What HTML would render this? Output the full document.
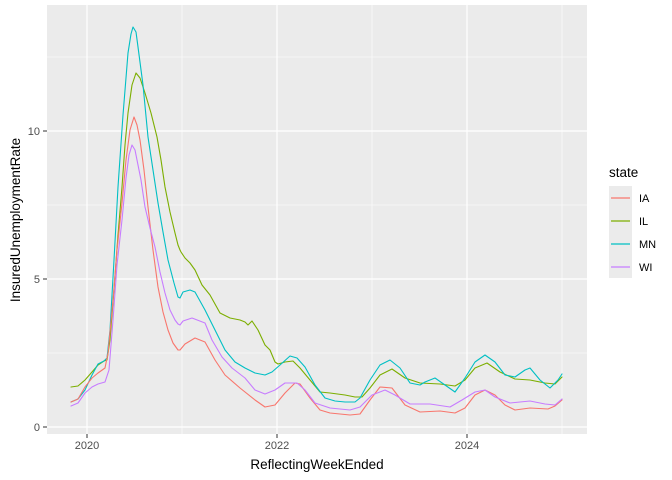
<!DOCTYPE html>
<html><head><style>body{margin:0;background:#fff}svg{display:block}text{font-family:"Liberation Sans",sans-serif}</style></head><body>
<svg width="672" height="480" xmlns="http://www.w3.org/2000/svg">
<rect x="47" y="5" width="540" height="429" fill="#ebebeb"/>
<g stroke="#fff" stroke-width="0.6">
<line x1="47" x2="587" y1="353" y2="353"/><line x1="47" x2="587" y1="205" y2="205"/><line x1="47" x2="587" y1="57" y2="57"/>
<line x1="182" x2="182" y1="5" y2="434"/><line x1="372" x2="372" y1="5" y2="434"/><line x1="562" x2="562" y1="5" y2="434"/>
</g>
<g stroke="#fff" stroke-width="1.2">
<line x1="47" x2="587" y1="427" y2="427"/><line x1="47" x2="587" y1="279" y2="279"/><line x1="47" x2="587" y1="131" y2="131"/>
<line x1="87" x2="87" y1="5" y2="434"/><line x1="277" x2="277" y1="5" y2="434"/><line x1="467" x2="467" y1="5" y2="434"/>
</g>
<g fill="none" stroke-width="1.1" stroke-linejoin="round" stroke-linecap="round">
<polyline stroke="#7CAE00" points="71,387 78,386 85,380 92,372 98,365 104,361 107,360 110,340 114,290 118,235 122,187 125,145 128,113 132,85 136,73 140,78 145,93 151,113 157,137 161,160 165,187 170,212 175,233 178,245 180,250 181,252 185,258 190,263 195,270 202,285 210,295 220,313 230,318 240,320 245,322 248,325 252,321 258,330 265,345 270,350 275,362 278,364 285,362 293,361 300,368 310,380 320,392 330,393 345,395 355,397 362,397 370,388 380,375 392,369 405,378 420,383 440,384 455,386 465,380 475,368 487,363 500,372 515,379 530,380 545,383 555,384 562,377"/>
<polyline stroke="#00BFC4" points="71,402 78,399 85,390 92,375 98,364 104,361 107,358 110,330 114,260 118,187 123,115 128,53 131,34 133,27 136,32 138,47 143,85 148,137 153,170 158,203 163,232 168,260 174,283 178,297 180,298 183,292 190,290 195,292 205,310 215,330 225,350 235,362 245,368 255,373 265,375 272,372 280,365 290,356 297,358 305,367 315,385 325,398 335,401 345,402 355,402 360,398 370,380 380,365 390,360 400,368 410,383 420,385 425,382 435,378 445,385 455,392 465,378 475,362 485,355 495,362 505,375 515,377 525,370 530,368 540,380 550,388 558,380 562,374"/>
<polyline stroke="#F8766D" points="71,402 78,399 85,387 92,378 98,373 105,368 108,353 113,300 117,250 122,203 126,160 130,130 134,117 137,125 140,140 144,170 148,207 153,250 158,287 163,312 168,330 173,343 178,350 180,350 185,344 195,338 205,342 215,360 225,375 240,388 255,400 265,407 275,405 285,393 295,383 300,384 310,398 320,410 330,413 350,415 360,414 370,400 380,387 392,388 405,405 420,412 440,411 455,413 465,408 475,395 485,390 495,395 505,405 515,410 530,408 548,409 555,406 562,400"/>
<polyline stroke="#C77CFF" points="71,406 78,403 85,393 92,387 98,384 105,382 109,370 113,320 117,265 122,220 126,178 129,155 132,145 135,150 137,160 141,180 145,207 150,228 155,247 160,272 165,293 170,310 175,320 178,324 180,325 183,321 192,318 205,323 212,340 222,357 232,368 245,378 255,390 265,394 275,390 285,383 297,383 305,390 315,403 330,408 350,410 360,407 372,395 385,390 395,395 410,404 430,404 450,407 462,400 475,392 485,390 495,397 510,403 530,401 545,404 555,405 562,399"/>
</g>
<g stroke="#333" stroke-width="1">
<line x1="43" x2="47" y1="427" y2="427"/><line x1="43" x2="47" y1="279" y2="279"/><line x1="43" x2="47" y1="131" y2="131"/>
<line x1="87" x2="87" y1="434" y2="438"/><line x1="277" x2="277" y1="434" y2="438"/><line x1="467" x2="467" y1="434" y2="438"/>
</g>
<g fill="#4d4d4d" font-size="11" text-anchor="end">
<text x="40" y="431">0</text><text x="40" y="283">5</text><text x="40" y="135">10</text>
</g>
<g fill="#4d4d4d" font-size="11" text-anchor="middle">
<text x="87" y="449">2020</text><text x="277" y="449">2022</text><text x="467" y="449">2024</text>
</g>
<text x="317" y="469" font-size="13.5" text-anchor="middle" fill="#000">ReflectingWeekEnded</text>
<text transform="translate(20,220) rotate(-90)" font-size="13.5" text-anchor="middle" fill="#000">InsuredUnemploymentRate</text>
<text x="609" y="177" font-size="13.5" fill="#000">state</text>
<rect x="609" y="186" width="23" height="92" fill="#ebebeb"/>
<g stroke-width="1.2">
<line x1="611" x2="630" y1="198" y2="198" stroke="#F8766D"/>
<line x1="611" x2="630" y1="221" y2="221" stroke="#7CAE00"/>
<line x1="611" x2="630" y1="244" y2="244" stroke="#00BFC4"/>
<line x1="611" x2="630" y1="267" y2="267" stroke="#C77CFF"/>
</g>
<g font-size="11" fill="#000">
<text x="639" y="202">IA</text><text x="639" y="225">IL</text><text x="639" y="248">MN</text><text x="639" y="271">WI</text>
</g>
</svg>
</body></html>
